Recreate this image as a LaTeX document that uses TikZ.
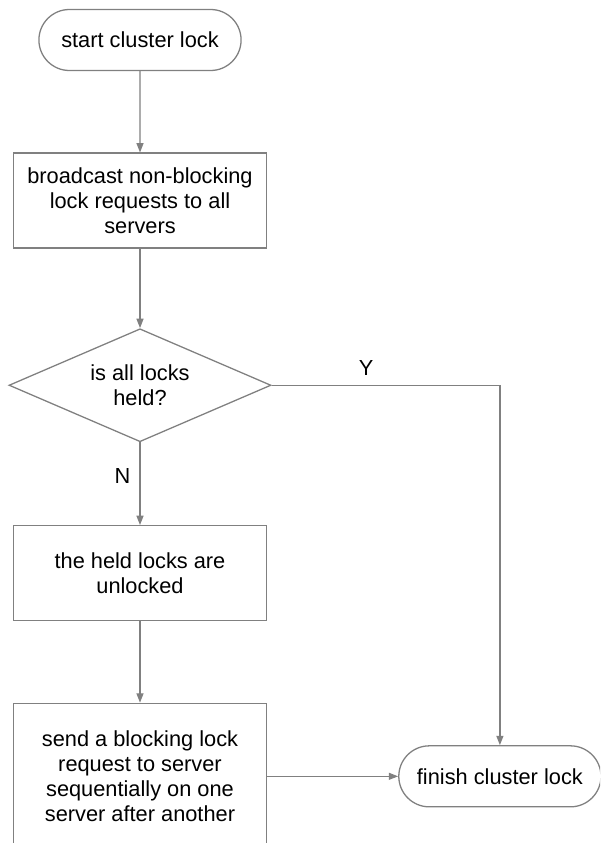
\documentclass[tikz,border=0pt]{standalone}
\usepackage{fontspec}
\setmainfont{Liberation Sans}
\usepackage{xcolor}
\usepackage{tikz}
\usetikzlibrary{shapes.geometric, shapes.misc, arrows.meta, positioning}
\definecolor{linegray}{HTML}{808080}

\begin{document}
\begin{tikzpicture}[
    node distance=2.44cm,
    every node/.style={font=\fontsize{18.6}{21.3}\selectfont},
    term/.style={draw=linegray, line width=1.1pt, rounded rectangle, minimum width=6.3cm, minimum height=1.83cm, align=center},
    box/.style={draw=linegray, line width=1.1pt, minimum width=7.59cm, minimum height=2.85cm, align=center},
    decision/.style={draw=linegray, line width=1.1pt, diamond, aspect=2.3, minimum width=7.86cm, minimum height=3.39cm, inner sep=0pt, align=center},
    arrow/.style={-{Triangle[length=8pt,width=6pt]}, draw=linegray, line width=1.1pt}
]
    \useasboundingbox (0,0) rectangle (18,-25.29);
    \clip (0,0) rectangle (18,-25.29);

    \node[term] (start) at (4.2,-1.2) {start cluster lock};
    \node[box, below=of start] (cast) {broadcast non-blocking\\lock requests to all\\servers};
    \node[decision, below=2.38cm of cast] (check) {is all locks\\held?};
    \node[box, below=2.48cm of check] (unlock) {the held locks are\\unlocked};
    \node[box, minimum height=4.38cm, below=of unlock] (send) {send a blocking lock\\request to server\\sequentially on one\\server after another};
    \node[term, right=3.93cm of send] (finish) {finish cluster lock};

    \draw[arrow] (start) -- (cast);
    \draw[arrow] (cast) -- (check);
    \draw[arrow] (check) -- node[left=0.15cm, pos=0.41] {N} (unlock);
    \draw[arrow] (unlock) -- (send);
    \draw[arrow] (send) -- (finish);
    \draw[arrow] (check.east) -| node[pos=0.207, above=0.15cm] {Y} (finish.north);
\end{tikzpicture}
\end{document}
